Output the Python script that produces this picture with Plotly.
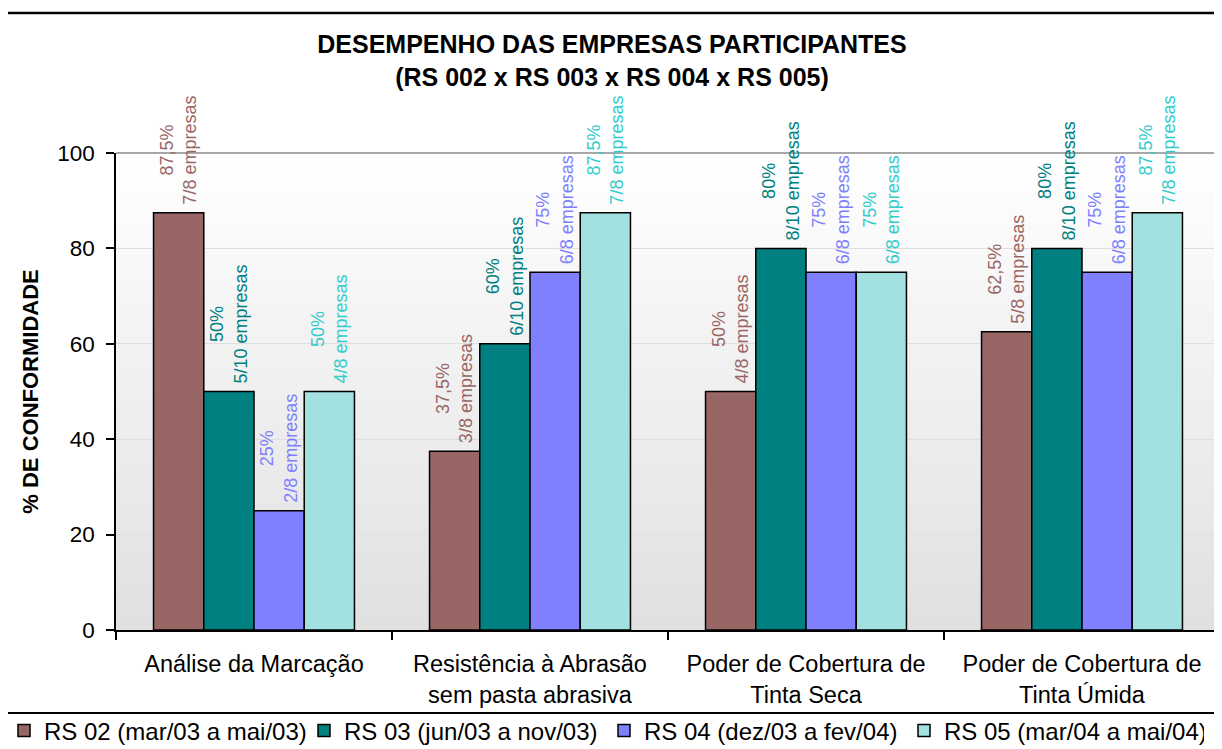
import plotly.graph_objects as go

# ---------------- data ----------------
categories = [
    "Análise da Marcação",
    "Resistência à Abrasão<br>sem pasta abrasiva",
    "Poder de Cobertura de<br>Tinta Seca",
    "Poder de Cobertura de<br>Tinta Úmida",
]
series_names = [
    "RS 02 (mar/03 a mai/03)",
    "RS 03 (jun/03 a nov/03)",
    "RS 04 (dez/03 a fev/04)",
    "RS 05 (mar/04 a mai/04)",
]
rs02_values = [87.5, 37.5, 50, 62.5]
rs03_values = [50, 60, 80, 80]
rs04_values = [25, 75, 75, 75]
rs05_values = [50, 87.5, 75, 87.5]

rs02_counts = ["7/8", "3/8", "4/8", "5/8"]
rs03_counts = ["5/10", "6/10", "8/10", "8/10"]
rs04_counts = ["2/8", "6/8", "6/8", "6/8"]
rs05_counts = ["4/8", "7/8", "6/8", "7/8"]

y_ticks = [0, 20, 40, 60, 80, 100]

# ---------------- style ----------------
OFF = 8  # page body margin in the browser
W, H = 1222 - OFF, 749 - OFF
PLOT_L, PLOT_R, PLOT_T, PLOT_B = 116, 1220, 153, 630  # screen px of plot area
L = PLOT_L - OFF
T = PLOT_T - OFF
R = W - (PLOT_R - OFF)
B = H - (PLOT_B - OFF)
PW, PH = W - L - R, H - T - B

fill_colors = ["#996666", "#008080", "#8080ff", "#a3e0e0"]
text_colors = ["#996666", "#008080", "#8080ff", "#33cccc"]
FONT = "Arial, Liberation Sans, sans-serif"


def px2x(sx):
    return (sx - PLOT_L) / PW


def px2y(sy):
    return (PLOT_B - sy) / PH


def fmt(v):
    s = ("%g" % v).replace(".", ",")
    return s + "%"


values = [rs02_values, rs03_values, rs04_values, rs05_values]
counts = [rs02_counts, rs03_counts, rs04_counts, rs05_counts]
NB = "\u00a0"

fig = go.Figure()
for name, vals, cnts, fc, tc in zip(series_names, values, counts, fill_colors, text_colors):
    fig.add_trace(go.Bar(
        name=name,
        x=categories,
        y=vals,
        text=[f"{NB}{fmt(v)}<br>{NB}{c} empresas" for v, c in zip(vals, cnts)],
        textposition="outside",
        textangle=-90,
        textfont=dict(family=FONT, size=18, color=tc),
        constraintext="none",
        cliponaxis=False,
        marker=dict(color=fc, line=dict(color="black", width=1.5)),
        hoverinfo="skip",
    ))

shapes = []
# plot-area gradient background
n_bands = 60
top_c, bot_c = (255, 255, 255), (224, 224, 224)
for i in range(n_bands):
    t = (i + 0.5) / n_bands
    c = tuple(round(top_c[k] + (bot_c[k] - top_c[k]) * t) for k in range(3))
    shapes.append(dict(
        type="rect", xref="paper", yref="paper",
        x0=0, x1=1, y0=1 - (i + 1) / n_bands, y1=1 - i / n_bands + 0.001,
        fillcolor="rgb(%d,%d,%d)" % c, line=dict(width=0), layer="below",
    ))
# plot-area top / right border (grey)
shapes.append(dict(type="line", xref="paper", yref="paper", x0=0, x1=1, y0=1, y1=1,
                   line=dict(color="#a8a8a8", width=2), layer="between"))
shapes.append(dict(type="line", xref="paper", yref="paper", x0=1, x1=1, y0=0, y1=1,
                   line=dict(color="#a8a8a8", width=2), layer="between"))
# chart outer frame
shapes.append(dict(type="rect", xref="paper", yref="paper",
                   x0=px2x(3), x1=px2x(1232), y0=px2y(760), y1=px2y(13),
                   line=dict(color="black", width=2.5), fillcolor="rgba(0,0,0,0)", layer="above"))
# legend separator
shapes.append(dict(type="line", xref="paper", yref="paper",
                   x0=px2x(3), x1=px2x(1232), y0=px2y(713), y1=px2y(713),
                   line=dict(color="black", width=2), layer="above"))

fig.update_layout(
    width=W, height=H,
    margin=dict(l=L, r=R, t=T, b=B, autoexpand=False),
    paper_bgcolor="white",
    plot_bgcolor="rgba(0,0,0,0)",
    barmode="group",
    bargap=0.272,
    bargroupgap=0,
    font=dict(family=FONT, color="black"),
    title=dict(
        text="<b>DESEMPENHO DAS EMPRESAS PARTICIPANTES<br>(RS 002 x RS 003 x RS 004 x RS 005)</b>",
        x=(612 - OFF) / W, xref="container", xanchor="center",
        y=1 - (53 - OFF) / H, yref="container", yanchor="middle",
        font=dict(family=FONT, size=25, color="black"),
    ),
    xaxis=dict(
        tickson="boundaries", ticks="outside", ticklen=8, tickwidth=1.5, tickcolor="black",
        showline=True, linecolor="black", linewidth=1.5,
        showgrid=False, tickfont=dict(family=FONT, size=23.5, color="black"),
        ticklabelstandoff=12,
        fixedrange=True,
    ),
    yaxis=dict(
        range=[0, 100], tickvals=y_ticks, ticks="outside", ticklen=8, tickwidth=1.5,
        tickcolor="black", showline=True, linecolor="black", linewidth=1.5,
        showgrid=True, gridcolor="#dedede", gridwidth=1, zeroline=False,
        tickfont=dict(family=FONT, size=22.5, color="black"),
        ticklabelstandoff=7,
        title=dict(text="<b>% DE CONFORMIDADE</b>", font=dict(family=FONT, size=22, color="black"),
                   standoff=13),
        fixedrange=True,
    ),
    legend=dict(
        orientation="h", xref="paper", yref="paper",
        x=px2x(4), xanchor="left", y=px2y(731), yanchor="middle",
        font=dict(family=FONT, size=24, color="black"),
        itemwidth=30, entrywidth=255, entrywidthmode="pixels",
        bgcolor="rgba(0,0,0,0)", traceorder="normal",
    ),
    shapes=shapes,
    showlegend=True,
)

fig.write_html("out.html")
